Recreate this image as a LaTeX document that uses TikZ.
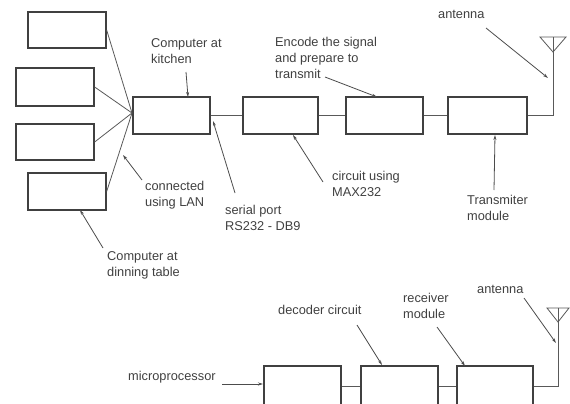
\documentclass[tikz,border=0pt]{standalone}
\usepackage{fontspec}
\setmainfont{Liberation Sans}
\usetikzlibrary{arrows.meta}
\begin{document}
\begin{tikzpicture}[x=1pt,y=-1pt,
 box/.style={draw=black!75, line width=1.3pt, minimum width=77pt, minimum height=37pt, inner sep=0pt},
 wire/.style={draw=black!65, line width=0.8pt},
 lbl/.style={text=black!75, font=\fontsize{12.8}{16}\selectfont, align=left, anchor=north west, inner sep=0pt},
 ptr/.style={draw=black!70, line width=0.8pt, -{Stealth[length=5pt,width=3pt]}}]
\useasboundingbox (0,0) rectangle (570,404);
\clip (0,0) rectangle (570,404);
% left computers
\node[box, minimum width=78pt, minimum height=36pt] (b1) at (67,30) {};
\node[box, minimum width=78pt, minimum height=38pt] (b2) at (55,87) {};
\node[box, minimum width=78pt, minimum height=36pt] (b3) at (55,142) {};
\node[box, minimum width=78pt, minimum height=37pt] (b4) at (67,191.5) {};
\coordinate (hub) at (132,113);
% transmitter chain
\node[box] (kit) at (171.5,115.5) {};
\node[box, minimum width=75pt] (mx) at (280.5,115.5) {};
\node[box] (enc) at (384.5,115.5) {};
\node[box, minimum width=79pt] (tx) at (487.5,115.5) {};
\draw[wire] (b1.east) -- (hub);
\draw[wire] (b2.east) -- (hub);
\draw[wire] (b3.east) -- (hub);
\draw[wire] (b4.east) -- (hub);
\draw[wire] (kit.east) -- (mx.west);
\draw[wire] (mx.east) -- (enc.west);
\draw[wire] (enc.east) -- (tx.west);
\coordinate (ta) at (553,115.5);
\coordinate (tt) at (553,37);
\draw[wire] (tx.east) -- (ta) -- (tt);
\draw[wire] (540,37) -- (566,37) -- (553,52) -- cycle;
% receiver chain
\node[box, minimum height=40pt] (mp) at (302.5,386) {};
\node[box, minimum height=40pt] (dec) at (399.5,386) {};
\node[box, minimum width=76pt, minimum height=40pt] (rx) at (495,386) {};
\draw[wire] (mp.east) -- (dec.west);
\draw[wire] (dec.east) -- (rx.west);
\coordinate (ra) at (558,386);
\coordinate (rt) at (558,308);
\draw[wire] (rx.east) -- (ra) -- (rt);
\draw[wire] (547,308) -- (569,308) -- (558,322) -- cycle;
% labels
\node[lbl] (lk) at (151,38) {Computer at\\kitchen};
\node[lbl] (le) at (275,37) {Encode the signal\\and prepare to\\transmit};
\node[lbl] (la1) at (438,10) {antenna};
\node[lbl] (ll) at (145,181) {connected\\using LAN};
\node[lbl] (ld) at (107,251) {Computer at\\dinning table};
\node[lbl] (ls) at (225,205) {serial port\\RS232 - DB9};
\node[lbl] (lm) at (332,171) {circuit using\\MAX232};
\node[lbl] (lt) at (467,195) {Transmiter\\module};
\node[lbl] (lmp) at (128,371) {microprocessor};
\node[lbl] (ldc) at (278,305) {decoder circuit};
\node[lbl] (lr) at (403,293) {receiver\\module};
\node[lbl] (la2) at (477,285) {antenna};
% pointers
\coordinate (pk) at (186,72); \coordinate (qk) at (188,97);
\coordinate (pe) at (325,77); \coordinate (qe) at (377,97);
\coordinate (pa1) at (486,28); \coordinate (qa1) at (548,78);
\coordinate (pl) at (142,180); \coordinate (ql) at (123,155);
\coordinate (pd) at (103,248); \coordinate (qd) at (80,210);
\coordinate (ps) at (235,193); \coordinate (qs) at (213,121);
\coordinate (pm) at (323,182); \coordinate (qm) at (293,135);
\coordinate (pt) at (494,190); \coordinate (qt) at (495,135);
\coordinate (pmp) at (222,384); \coordinate (qmp) at (263,384);
\coordinate (pdc) at (357,325); \coordinate (qdc) at (382,365);
\coordinate (pr) at (437,327); \coordinate (qr) at (465,366);
\coordinate (pa2) at (524,298); \coordinate (qa2) at (556,343);
\draw[ptr] (pk) -- (qk);
\draw[ptr] (pe) -- (qe);
\draw[ptr] (pa1) -- (qa1);
\draw[ptr] (pl) -- (ql);
\draw[ptr] (pd) -- (qd);
\draw[ptr] (ps) -- (qs);
\draw[ptr] (pm) -- (qm);
\draw[ptr] (pt) -- (qt);
\draw[ptr] (pmp) -- (qmp);
\draw[ptr] (pdc) -- (qdc);
\draw[ptr] (pr) -- (qr);
\draw[ptr] (pa2) -- (qa2);
\end{tikzpicture}
\end{document}
